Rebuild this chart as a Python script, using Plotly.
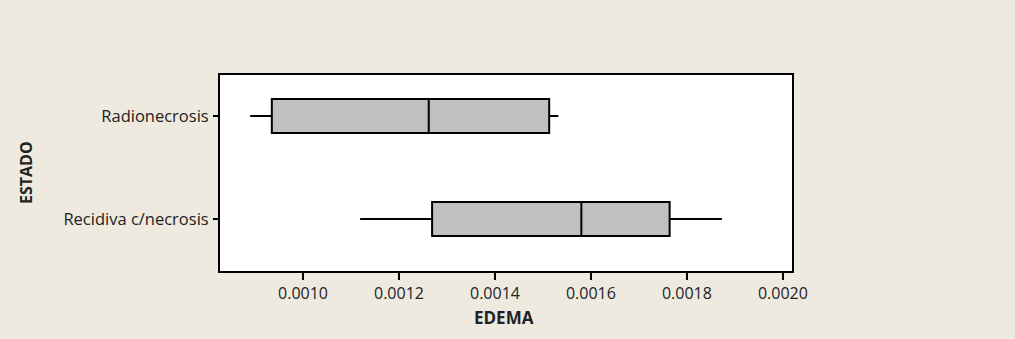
import plotly.graph_objects as go

categories = ["Recidiva c/necrosis", "Radionecrosis"]
lower_whisker = [0.001119, 0.000890]
q1_vals = [0.001269, 0.000935]
median_vals = [0.001580, 0.001262]
q3_vals = [0.001764, 0.001513]
upper_whisker = [0.001873, 0.001532]
x_ticks = [0.0010, 0.0012, 0.0014, 0.0016, 0.0018, 0.0020]

FONT = "Open Sans, Segoe UI, sans-serif"

W, H = 1015, 339
L, R, T, B = 220, 223, 75, 68
plot_w = W - L - R
plot_h = H - T - B

fig = go.Figure()
fig.add_trace(go.Box(
    y=categories,
    q1=q1_vals,
    median=median_vals,
    q3=q3_vals,
    lowerfence=lower_whisker,
    upperfence=upper_whisker,
    orientation="h",
    fillcolor="#C0C0C0",
    line=dict(color="black", width=2),
    whiskerwidth=0,
    width=0.33,
    boxpoints=False,
    showlegend=False,
    hoverinfo="skip",
))

fig.update_layout(
    width=W, height=H,
    paper_bgcolor="#EEEAE0",
    plot_bgcolor="white",
    margin=dict(l=L, r=R, t=T, b=B),
    font=dict(family=FONT, size=16, color="#222222"),
    xaxis=dict(
        range=[0.000827, 0.002019],
        tickvals=x_ticks,
        tickformat=".4f",
        ticks="outside", ticklen=7, tickwidth=2, tickcolor="black",
        showline=True, linecolor="black", linewidth=2, mirror=True,
        showgrid=False, zeroline=False,
        tickfont=dict(size=16),
    ),
    yaxis=dict(
        type="category",
        categoryorder="array", categoryarray=categories,
        range=[-0.505, 1.398],
        ticks="outside", ticklen=5, tickwidth=2, tickcolor="black",
        showline=True, linecolor="black", linewidth=2, mirror=True,
        showgrid=False, zeroline=False,
        tickfont=dict(size=16.5),
        ticklabelstandoff=1,
    ),
    annotations=[
        dict(text="<b>EDEMA</b>", xref="paper", yref="paper",
             x=(504 - L) / plot_w, y=(H - B - 317) / plot_h,
             showarrow=False, font=dict(size=17, color="#222222"),
             xanchor="center", yanchor="middle"),
        dict(text="<b>ESTADO</b>", xref="paper", yref="paper",
             x=(26 - L) / plot_w, y=(H - B - 173) / plot_h,
             showarrow=False, font=dict(size=16, color="#222222"), textangle=-90,
             xanchor="center", yanchor="middle"),
    ],
)

fig.write_html("out.html", config={"displayModeBar": False},
               post_script="document.body.style.margin='0';document.body.style.overflow='hidden';")
